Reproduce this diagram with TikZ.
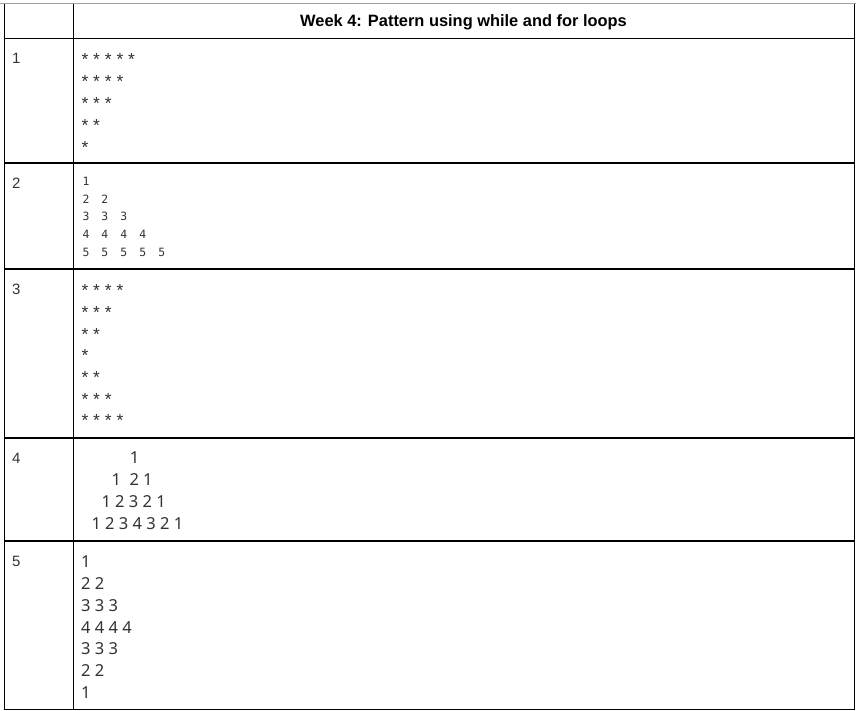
\documentclass[tikz,border=0pt]{standalone}
\usepackage{fontspec}
\setmainfont{Liberation Sans}
\newfontfamily\notof{Noto Sans}
\newfontfamily\monof{DejaVu Sans Mono}
\definecolor{txt}{HTML}{333333}
\definecolor{toprule}{HTML}{A0A0A0}
\newcommand\mgap{\hspace{12.1pt}}
\begin{document}
\begin{tikzpicture}[x=1pt,y=-1pt,
  gridline/.style={line width=1.3pt,black},
  topline/.style={line width=1pt,toprule},
  hdr/.style={font=\fontsize{16.4}{19}\selectfont\bfseries, text=black, inner sep=0pt, anchor=base},
  num/.style={font=\fontsize{15}{18}\selectfont, text=txt, inner sep=0pt, anchor=base west},
  stars/.style={font=\fontsize{17.5}{20}\selectfont, text=txt, inner sep=0pt, anchor=base west},
  mono/.style={font=\monof\fontsize{11.4}{13}\selectfont, text=txt, inner sep=0pt, anchor=base west},
  digs/.style={font=\notof\fontsize{16.5}{19}\selectfont, text=txt, inner sep=0pt, anchor=base west}]
\useasboundingbox (0,0) rectangle (856,711);
% table rules
\draw[topline] (0,4) -- (856,4);
\foreach \x in {4.5,73.3,854.5}
  \draw[gridline] (\x,4) -- (\x,710.2);
\foreach \y in {38.3,163,269,438,541,709.5}
  \draw[gridline] (3.85,\y) -- (855.15,\y);
% header
\node[hdr] (title) at (463.5,26.3) {Week 4: Pattern using while and for loops};
% row numbers
\node[num] (n1) at (12,63.8) {1};
\node[num] (n2) at (12,188.5) {2};
\node[num] (n3) at (12,294.5) {3};
\node[num] (n4) at (12,463.5) {4};
\node[num] (n5) at (12,566.5) {5};
% row 1
\foreach \s [count=\i from 0] in {* * * * *, * * * *, * * *, * *, *}
  \node[stars] (ra\i) at (81.3,{65.1+22*\i}) {\s};
% row 2
\foreach \s [count=\i from 0] in {1, 2\mgap2, 3\mgap3\mgap3, 4\mgap4\mgap4\mgap4, 5\mgap5\mgap5\mgap5\mgap5}
  \node[mono] (rb\i) at (82.3,{185.8+17.6*\i}) {\s};
% row 3
\foreach \s [count=\i from 0] in {* * * *, * * *, * *, *, * *, * * *, * * * *}
  \node[stars] (rc\i) at (81.3,{296.8+21.67*\i}) {\s};
% row 4
\node[digs] (rd0) at (129.7,463.4) {1};
\node[digs] (rd1) at (111.3,485.3) {1~~2 1};
\node[digs] (rd2) at (101.3,507.2) {1 2 3 2 1};
\node[digs] (rd3) at (91.3,529.1) {1 2 3 4 3 2 1};
% row 5
\foreach \s [count=\i from 0] in {1, 2 2, 3 3 3, 4 4 4 4, 3 3 3, 2 2, 1}
  \node[digs] (re\i) at (81,{567.8+21.75*\i}) {\s};
\end{tikzpicture}
\end{document}
